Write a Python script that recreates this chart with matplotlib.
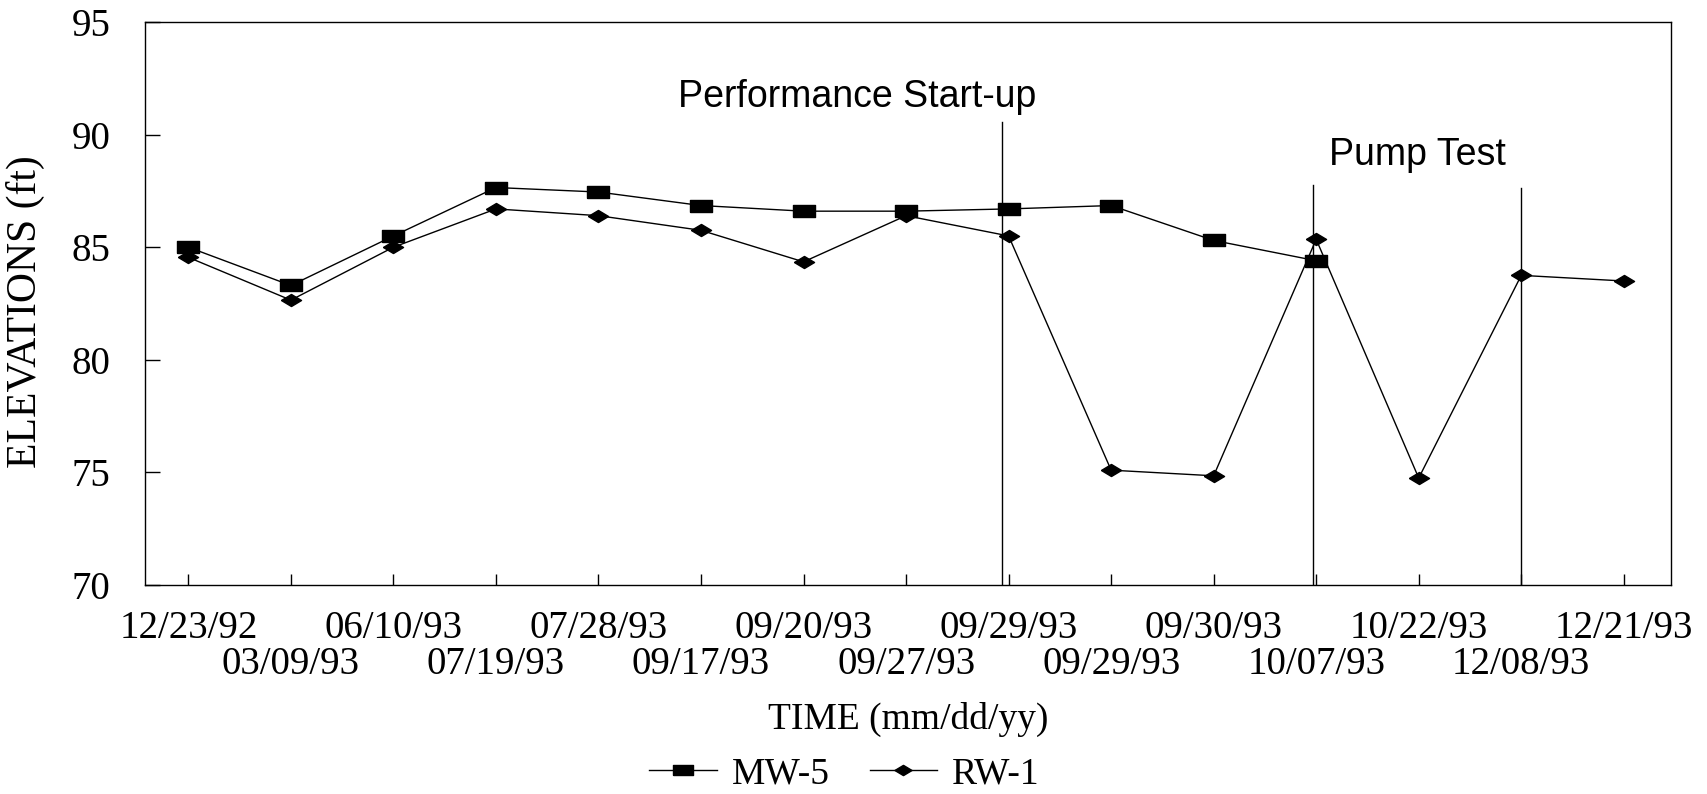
import matplotlib
matplotlib.use("Agg")
import matplotlib.pyplot as plt
import numpy as np

dates = ["12/23/92", "03/09/93", "06/10/93", "07/19/93", "07/28/93", "09/17/93",
         "09/20/93", "09/27/93", "09/29/93", "09/29/93", "09/30/93", "10/07/93",
         "10/22/93", "12/08/93", "12/21/93"]
mw5 = [85.0, 83.3, 85.5, 87.65, 87.45, 86.85, 86.6, 86.6, 86.7, 86.85, 85.3, 84.4]
rw1 = [84.55, 82.65, 85.0, 86.7, 86.4, 85.75, 84.35, 86.4, 85.5, 75.1, 74.85, 85.35,
       74.75, 83.75, 83.5]
event_x = [7.94, 10.97, 13.0]
event_top = [90.56, 87.76, 87.63]
event_labels = [("Performance Start-up", 6.52, 91.23), ("Pump Test", 11.99, 88.65)]

serif = ["Liberation Serif", "DejaVu Serif"]
sans = ["Liberation Sans", "DejaVu Sans"]

fig = plt.figure(figsize=(17.08, 7.94), dpi=100)
ax = fig.add_axes([0.0849, 0.2632, 0.8934, 0.7091])

sq = [(-1, -0.52), (1, -0.52), (1, 0.52), (-1, 0.52), (-1, -0.52)]
dm = [(-1, 0), (0, 0.6), (1, 0), (0, -0.6), (-1, 0)]

x_mw = np.arange(len(mw5))
x_rw = np.arange(len(rw1))
ax.plot(x_mw, mw5, color="black", lw=1.0, marker=sq, ms=16.5, mfc="black", mec="black",
        label="MW-5")
ax.plot(x_rw, rw1, color="black", lw=1.0, marker=dm, ms=14.5, mfc="black", mec="black",
        label="RW-1")

for xv, top in zip(event_x, event_top):
    ax.plot([xv, xv], [70, top], color="black", lw=1.0)
for txt, xv, yv in event_labels:
    ax.text(xv, yv, txt, ha="center", va="baseline", fontsize=27, family=sans)

ax.set_xlim(-0.423, 14.46)
ax.set_ylim(70, 95)
ax.set_yticks([70, 75, 80, 85, 90, 95])
ax.tick_params(axis="y", direction="in", length=11, width=1, labelsize=28, pad=25)
for lab in ax.get_yticklabels():
    lab.set_family(serif)

even = np.arange(0, len(dates), 2)
odd = np.arange(1, len(dates), 2)
ax.set_xticks(even)
ax.set_xticklabels([dates[i] for i in even], family=serif)
ax.set_xticks(odd, minor=True)
ax.set_xticklabels([dates[i] for i in odd], minor=True, family=serif)
ax.tick_params(axis="x", which="major", direction="in", length=8, width=1, labelsize=28, pad=18)
ax.tick_params(axis="x", which="minor", direction="in", length=8, width=1, labelsize=28, pad=44)

for s in ax.spines.values():
    s.set_linewidth(1.0)

ax.set_ylabel("ELEVATIONS (ft)", family=serif, fontsize=30)
ax.yaxis.set_label_coords(-0.0655, 0.485)
ax.set_xlabel("TIME (mm/dd/yy)", family=serif, fontsize=27, va="top")
ax.xaxis.set_label_coords(0.5, -0.207)

leg = fig.legend(loc="center", bbox_to_anchor=(0.4944, 0.025), ncol=2, frameon=False,
                 prop={"family": serif, "size": 27}, handlelength=1.8, columnspacing=1.07,
                 handletextpad=0.4, borderpad=0.0, markerscale=0.85)

fig.savefig("out.png", dpi=100, facecolor="white")
